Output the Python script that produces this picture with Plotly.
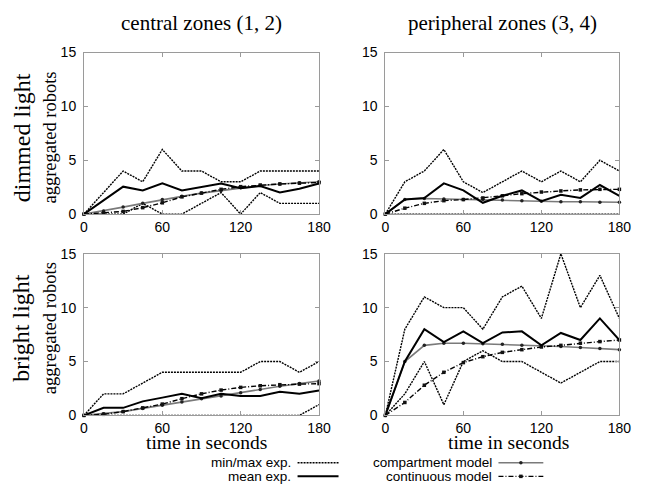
import plotly.graph_objects as go

W, H = 647, 495

time_s = [0, 15, 30, 45, 60, 75, 90, 105, 120, 135, 150, 165, 180]

# dimmed light, central zones
dc_max = [0, 2, 4, 3, 6, 4, 4, 3, 3, 4, 4, 4, 4]
dc_min = [0, 0, 0, 1, 0, 0, 1, 2, 0, 2, 1, 1, 1]
dc_mean = [0, 1.25, 2.55, 2.2, 2.85, 2.2, 2.5, 2.85, 2.4, 2.6, 2.0, 2.35, 2.85]
dc_comp = [0, 0.3, 0.65, 1.0, 1.35, 1.65, 1.95, 2.2, 2.45, 2.65, 2.8, 2.9, 3.0]
dc_cont = [0, 0.1, 0.25, 0.6, 1.05, 1.6, 1.95, 2.3, 2.55, 2.7, 2.8, 2.87, 2.93]

# dimmed light, peripheral zones
dp_max = [0, 3, 4, 6, 3, 2, 3, 4, 3, 4, 3, 5, 4]
dp_min = [0, 0, 0, 0, 0, 0, 0, 0, 0, 0, 0, 0, 0]
dp_mean = [0, 1.35, 1.5, 2.85, 2.2, 1.05, 1.7, 2.2, 1.2, 1.8, 1.5, 2.7, 1.7]
dp_comp = [0, 1.35, 1.45, 1.4, 1.35, 1.35, 1.3, 1.25, 1.2, 1.15, 1.15, 1.1, 1.1]
dp_cont = [0, 0.55, 1.0, 1.25, 1.35, 1.5, 1.7, 1.9, 2.05, 2.15, 2.25, 2.3, 2.3]

# bright light, central zones
bc_max = [0, 2, 2, 3, 4, 4, 4, 4, 4, 5, 5, 4, 5]
bc_min = [0, 0, 0, 0, 0, 0, 0, 0, 0, 0, 0, 0, 1]
bc_mean = [0, 0.7, 0.7, 1.3, 1.65, 2.0, 1.6, 2.0, 1.8, 1.8, 2.2, 2.0, 2.3]
bc_comp = [0, 0.15, 0.35, 0.65, 0.95, 1.25, 1.55, 1.8, 2.1, 2.4, 2.7, 2.95, 3.2]
bc_cont = [0, 0.1, 0.35, 0.7, 1.05, 1.55, 2.0, 2.35, 2.6, 2.75, 2.85, 2.9, 2.95]

# bright light, peripheral zones
bp_max = [0, 8, 11, 10, 10, 8, 11, 12, 9, 15, 10, 13, 9]
bp_min = [0, 2, 5, 1, 5, 6, 5, 5, 4, 3, 4, 5, 5]
bp_mean = [0, 5.0, 8.0, 6.8, 7.8, 6.7, 7.7, 7.8, 6.5, 7.65, 7.0, 9.0, 7.0]
bp_comp = [0, 5.0, 6.5, 6.7, 6.7, 6.65, 6.6, 6.5, 6.45, 6.4, 6.3, 6.2, 6.1]
bp_cont = [0, 1.2, 2.8, 4.0, 4.9, 5.45, 5.85, 6.1, 6.35, 6.5, 6.7, 6.85, 7.0]

col_titles = ["central zones (1, 2)", "peripheral zones (3, 4)"]
row_titles = ["dimmed light", "bright light"]
y_title = "aggregated robots"
x_title = "time in seconds"
legend_labels = ["min/max exp.", "mean exp.", "compartment model", "continuous model"]
x_ticks = [0, 60, 120, 180]
y_ticks = [0, 5, 10, 15]

panels = [
    (dc_max, dc_min, dc_mean, dc_comp, dc_cont),
    (dp_max, dp_min, dp_mean, dp_comp, dp_cont),
    (bc_max, bc_min, bc_mean, bc_comp, bc_cont),
    (bp_max, bp_min, bp_mean, bp_comp, bp_cont),
]

SERIF = "Liberation Serif"
SANS = "Liberation Sans"

STY_MINMAX = dict(color="black", width=1.4, dash="2px,1px")
STY_MEAN = dict(color="black", width=2)
STY_COMP = dict(color="#7a7a7a", width=1.6)
STY_CONT = dict(color="black", width=1.4, dash="5px,2px,1px,2px")
MK_COMP = dict(symbol="circle", size=3.5, color="#222")
MK_CONT = dict(symbol="square", size=3.5, color="#111")

# pixel layout
px_x = [(82, 323), (391, 631)]
px_y = [(46, 213), (254, 421)]
row_label_cy = [134, 331]
xtitle_cx = [208, 517]


def pdx(a, b):
    return [a / W, b / W]


def pdy(top, bot):
    return [1 - bot / H, 1 - top / H]


fig = go.Figure()

for i, (mx, mn, me, cp, ct) in enumerate(panels):
    r, c = divmod(i, 2)
    k = i + 1
    xa = "x" if k == 1 else f"x{k}"
    ya = "y" if k == 1 else f"y{k}"
    common = dict(x=time_s, xaxis=xa, yaxis=ya, showlegend=False, cliponaxis=False, hoverinfo="skip")
    fig.add_trace(go.Scatter(y=mx, mode="lines", line=STY_MINMAX, **common))
    fig.add_trace(go.Scatter(y=mn, mode="lines", line=STY_MINMAX, **common))
    fig.add_trace(go.Scatter(y=cp, mode="lines+markers", line=STY_COMP, marker=MK_COMP, **common))
    fig.add_trace(go.Scatter(y=ct, mode="lines+markers", line=STY_CONT, marker=MK_CONT, **common))
    fig.add_trace(go.Scatter(y=me, mode="lines", line=STY_MEAN, **common))

    axcommon = dict(showline=True, linecolor="#9a9a9a", linewidth=1, mirror="ticks",
                    ticks="inside", ticklen=4, tickcolor="#9a9a9a", showgrid=False,
                    zeroline=False, tickfont=dict(family=SANS, size=14, color="black"))
    xkey = "xaxis" if k == 1 else f"xaxis{k}"
    ykey = "yaxis" if k == 1 else f"yaxis{k}"
    fig.update_layout(**{
        xkey: dict(domain=pdx(*px_x[c]), range=[0, 180], tickvals=x_ticks, anchor=ya, **axcommon),
        ykey: dict(domain=pdy(*px_y[r]), range=[0, 15], tickvals=y_ticks, anchor=xa,
                   ticklabelstandoff=4, **axcommon),
    })

# legend drawn on an overlay axis in pixel units
fig.update_layout(
    xaxis5=dict(domain=[0, 1], range=[0, W], visible=False, fixedrange=True, anchor="y5"),
    yaxis5=dict(domain=[0, 1], range=[H, 0], visible=False, fixedrange=True, anchor="x5"),
)
leg_rows = [470, 484]
leg_cols = [(301, 343, 296), (507, 553, 502)]
leg_styles = [
    (STY_MINMAX, None), (STY_MEAN, None), (STY_COMP, MK_COMP), (STY_CONT, MK_CONT),
]
for j, label in enumerate(legend_labels):
    c, r = divmod(j, 2)
    x0, x1, xt = leg_cols[c]
    yy = leg_rows[r]
    sty, mk = leg_styles[j]
    fig.add_trace(go.Scatter(x=[x0, x1], y=[yy, yy], xaxis="x5", yaxis="y5", mode="lines",
                             line=sty, showlegend=False, hoverinfo="skip"))
    if mk is not None:
        fig.add_trace(go.Scatter(x=[(x0 + x1) / 2], y=[yy], xaxis="x5", yaxis="y5", mode="markers",
                                 marker=mk, showlegend=False, hoverinfo="skip"))
    fig.add_annotation(x=xt / W, y=1 - yy / H, xref="paper", yref="paper", text=label,
                       xanchor="right", yanchor="middle", showarrow=False,
                       font=dict(family=SANS, size=13.5, color="black"))

ann = []
for c, t in enumerate(col_titles):
    cx = (px_x[c][0] + px_x[c][1]) / 2
    ann.append(dict(x=cx / W, y=1 - 16 / H, text=t, font=dict(family=SERIF, size=21)))
for r, t in enumerate(row_titles):
    cy = row_label_cy[r]
    ann.append(dict(x=18 / W, y=1 - cy / H, text=t, textangle=-90, font=dict(family=SERIF, size=24)))
    ann.append(dict(x=47 / W, y=1 - cy / H, text=y_title, textangle=-90, font=dict(family=SERIF, size=18.5)))
for c in range(2):
    ann.append(dict(x=xtitle_cx[c] / W, y=1 - 449 / H, text=x_title, font=dict(family=SERIF, size=19.5)))
for a in ann:
    fig.add_annotation(xref="paper", yref="paper", xanchor="center", yanchor="middle",
                       showarrow=False, **{k: v for k, v in a.items() if k != "font"},
                       font=dict(color="black", **a["font"]))

fig.update_layout(width=W, height=H, margin=dict(l=0, r=0, t=0, b=0),
                  paper_bgcolor="white", plot_bgcolor="rgba(0,0,0,0)")

fig.write_html("out.html")
